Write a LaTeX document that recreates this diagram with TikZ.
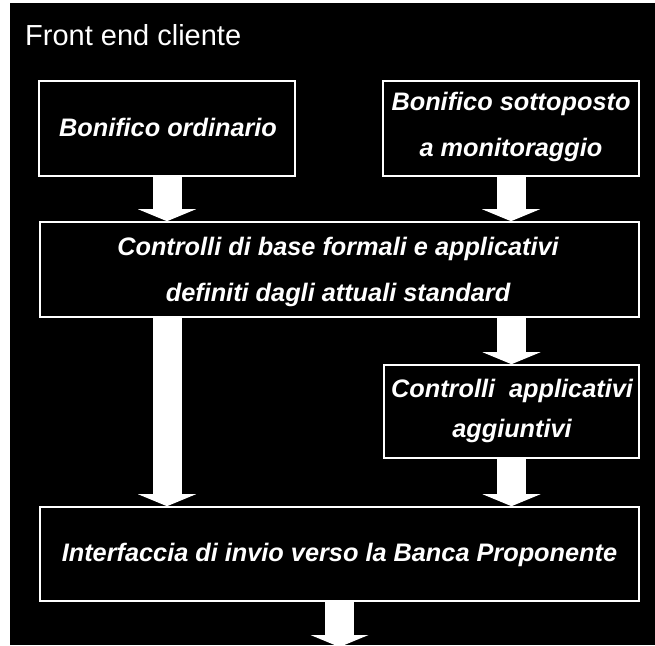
\documentclass[tikz,border=0pt]{standalone}
\usepackage{fontspec}
\setmainfont{Liberation Sans}
\usetikzlibrary{arrows.meta}

\tikzset{
  box/.style={draw=white, line width=1.6pt, fill=black, rectangle, inner sep=0pt},
  label/.style={text=white, inner sep=0pt, anchor=base,
    font=\fontsize{25.3}{30}\selectfont\bfseries\itshape},
  heading/.style={text=white, inner sep=0pt, anchor=base west,
    font=\fontsize{29}{34}\selectfont},
  blockarrow/.style={draw=white, line width=29pt,
    -{Triangle[width=58pt,length=12pt,line width=0pt]}},
}

\begin{document}
\begin{tikzpicture}[x=1pt, y=-1pt]
  \clip (0,0) rectangle (655,645);
  \useasboundingbox (0,0) rectangle (655,645);

  % panel
  \fill[white] (0,0) rectangle (655,645);
  \fill[black] (10,3) rectangle (655,645);
  \node[heading] (title) at (25,45.7) {Front end cliente};

  % boxes
  \node[box, minimum width=256pt, minimum height=95pt] (a) at (167,128.5) {};
  \node[box, minimum width=256pt, minimum height=95pt] (b) at (511,128.5) {};
  \node[box, minimum width=599pt, minimum height=95pt] (c) at (339.5,269.5) {};
  \node[box, minimum width=255pt, minimum height=93pt] (d) at (511.5,411.5) {};
  \node[box, minimum width=599pt, minimum height=94pt] (e) at (339.5,554) {};

  % box texts
  \node[label] (ta) at (168,136.7) {Bonifico ordinario};
  \node[label] (tb1) at (511,110.3) {Bonifico sottoposto};
  \node[label] (tb2) at (511,156.7) {a monitoraggio};
  \node[label] (tc1) at (338,255) {Controlli di base formali e applicativi};
  \node[label] (tc2) at (338,301.7) {definiti dagli attuali standard};
  \node[label] (td1) at (512,397.5) {Controlli\ \ applicativi};
  \node[label] (td2) at (512,437.5) {aggiuntivi};
  \node[label] (te) at (339.5,561.7) {Interfaccia di invio verso la Banca Proponente};

  % flow arrows
  \coordinate (out) at (339.5,647);
  \draw[blockarrow] (a.south) -- (c.north -| a.south);
  \draw[blockarrow] (b.south) -- (c.north -| b.south);
  \draw[blockarrow] (c.south -| d.north) -- (d.north);
  \draw[blockarrow] (c.south -| a.south) -- (e.north -| a.south);
  \draw[blockarrow] (d.south) -- (e.north -| d.south);
  \draw[blockarrow] (e.south) -- (out);
\end{tikzpicture}
\end{document}
